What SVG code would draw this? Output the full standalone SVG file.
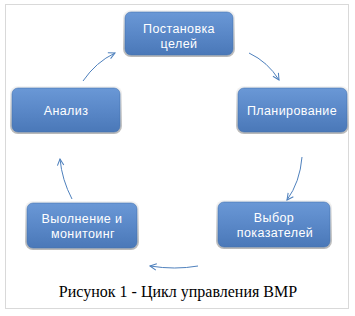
<svg xmlns="http://www.w3.org/2000/svg" width="355" height="316" viewBox="0 0 355 316">
<defs>
<linearGradient id="blue" x1="0" y1="0" x2="0" y2="1">
<stop offset="0" stop-color="#6A98D6"/>
<stop offset="0.5" stop-color="#5A88C8"/>
<stop offset="1" stop-color="#4A78B8"/>
</linearGradient>
<linearGradient id="bevel" x1="0" y1="0" x2="0" y2="1">
<stop offset="0" stop-color="#f4f4f4"/>
<stop offset="1" stop-color="#b8b8b8"/>
</linearGradient>
<marker id="ah" viewBox="0 0 10 10" refX="9" refY="5" markerWidth="8" markerHeight="8" orient="auto" markerUnits="userSpaceOnUse">
<path d="M1,1 L9,5 L1,9" fill="none" stroke="#4F81BD" stroke-width="1.3"/>
</marker>
</defs>
<style>
.frame{fill:#fff;stroke:#d9d9d9;stroke-width:1}
.outer{fill:url(#bevel)}
.box{fill:url(#blue);stroke:#4372b0;stroke-width:0.6}
.lbl{font-family:"Liberation Sans",Arial,sans-serif;font-size:12.5px;fill:#fff;text-anchor:middle;letter-spacing:0.4px}
.arr{fill:none;stroke:#4F81BD;stroke-width:1;marker-end:url(#ah)}
.cap{font-family:"Liberation Serif","Times New Roman",serif;font-size:16px;fill:#000;text-anchor:middle}
</style>
<rect class="frame" x="5.5" y="4.5" width="343" height="304"/>
<g id="n1">
<rect class="outer" x="123" y="10" width="112" height="47" rx="8"/>
<rect class="box" x="125" y="12" width="108" height="43" rx="6"/>
<text class="lbl" x="179" y="33">Постановка</text>
<text class="lbl" x="179" y="48">целей</text>
</g>
<g id="n2">
<rect class="outer" x="236" y="86" width="113" height="48" rx="8"/>
<rect class="box" x="238" y="88" width="109" height="44" rx="6"/>
<text class="lbl" x="292" y="115">Планирование</text>
</g>
<g id="n3">
<rect class="outer" x="216" y="200" width="116" height="49" rx="8"/>
<rect class="box" x="218" y="202" width="112" height="45" rx="6"/>
<text class="lbl" x="274" y="222">Выбор</text>
<text class="lbl" x="275" y="237">показателей</text>
</g>
<g id="n4">
<rect class="outer" x="25" y="201" width="114" height="49" rx="8"/>
<rect class="box" x="27" y="203" width="110" height="45" rx="6"/>
<text class="lbl" x="82" y="223">Выолнение и</text>
<text class="lbl" x="83" y="238">монитоинг</text>
</g>
<g id="n5">
<rect class="outer" x="10" y="86" width="112" height="48" rx="8"/>
<rect class="box" x="12" y="88" width="108" height="44" rx="6"/>
<text class="lbl" x="66" y="115">Анализ</text>
</g>
<g id="connectors">
<path class="arr" d="M83,81 Q96,62 115,53"/>
<path class="arr" d="M249,53 Q268,62 279,80"/>
<path class="arr" d="M302,157 Q300,182 287,200"/>
<path class="arr" d="M198,266 Q175,270 150,266"/>
<path class="arr" d="M72,199 Q62,180 60,159"/>
</g>
<text class="cap" x="178" y="297">Рисунок 1 - Цикл управления ВМР</text>
</svg>
